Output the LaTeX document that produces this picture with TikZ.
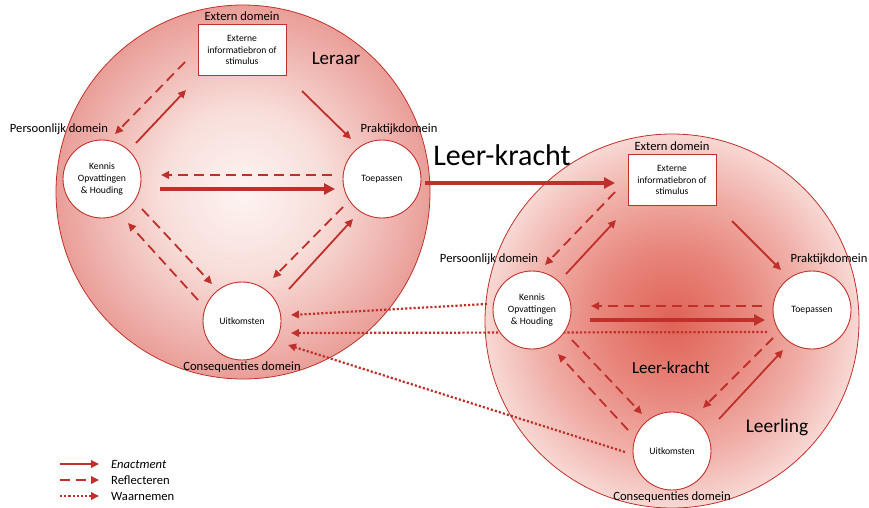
\documentclass[tikz,border=0pt]{standalone}
\usepackage{fontspec}
\setmainfont{Carlito}
\usetikzlibrary{arrows.meta,calc}
\definecolor{lr}{RGB}{192,48,42}
\definecolor{lcA}{RGB}{253,244,242}
\definecolor{lcB}{RGB}{248,222,218}
\definecolor{lcC}{RGB}{234,158,152}
\definecolor{rcA}{RGB}{224,98,86}
\definecolor{rcB}{RGB}{232,135,125}
\definecolor{rcC}{RGB}{240,175,168}
\definecolor{rcD}{RGB}{248,216,212}
\pgfdeclareradialshading{leftshade}{\pgfpointorigin}{color(0bp)=(lcA); color(11bp)=(lcB); color(25bp)=(lcC); color(50bp)=(lcC)}
\pgfdeclareradialshading{rightshade}{\pgfpointorigin}{color(0bp)=(rcA); color(10bp)=(rcB); color(18bp)=(rcC); color(25bp)=(rcD); color(50bp)=(rcD)}
\tikzset{
  bigcirc/.style={circle, draw=lr, line width=0.8pt, minimum size=374pt, inner sep=0pt},
  smallcirc/.style={circle, draw=lr, line width=0.9pt, fill=white, minimum size=78pt, inner sep=0pt, align=center, font=\fontsize{9.7}{12}\selectfont},
  srcbox/.style={rectangle, draw=lr, line width=1pt, fill=white, minimum width=88pt, minimum height=51pt, inner sep=0pt, align=center, font=\fontsize{9.6}{11.7}\selectfont},
  domlabel/.style={font=\fontsize{12.6}{15}\selectfont, inner sep=0pt},
  enact/.style={draw=lr, line width=1.8pt, -{Triangle[length=8pt,width=7.5pt]}},
  thickenact/.style={draw=lr, line width=3.8pt, -{Triangle[length=11pt,width=11pt]}},
  reflect/.style={draw=lr, line width=1.8pt, dash pattern=on 10pt off 6pt, -{Triangle[length=8pt,width=7.5pt]}},
  observe/.style={draw=lr, line width=2.2pt, dash pattern=on 2.2pt off 2pt, -{Triangle[length=8pt,width=7.5pt]}},
}
\begin{document}
\begin{tikzpicture}[x=1pt,y=-1pt]
\useasboundingbox (0,0) rectangle (869,507);
% big circles
\node[bigcirc, shade, shading=leftshade] (Lbig) at (243,192) {};
\node[bigcirc, shade, shading=rightshade] (Rbig) at (672,321) {};
% node positions
\coordinate (LKc) at (102,179);
\coordinate (LTc) at (382,179);
\coordinate (LUc) at (242,321);
\coordinate (RKc) at (532,310);
\coordinate (RTc) at (812,310);
\coordinate (RUc) at (672,451);
% dotted observation lines (drawn under the small circles)
\draw[observe] ($(RKc)+(-45,-6)$) -- ($(LUc)+(49,-6)$);
\draw[observe] ($(RTc)+(-45,22)$) -- ($(LUc)+(49,12)$);
\draw[observe] ($(RUc)+(-47,1)$) -- ($(LUc)+(46,24)$);
% left system
\node[srcbox] (LB) at (242,50) {Externe\\informatiebron of\\stimulus};
\node[smallcirc] (LK) at (LKc) {Kennis\\Opvattingen\\\& Houding};
\node[smallcirc] (LT) at (LTc) {Toepassen};
\node[smallcirc] (LU) at (LUc) {Uitkomsten};
% right system
\node[srcbox] (RB) at (672,180) {Externe\\informatiebron of\\stimulus};
\node[smallcirc] (RK) at (RKc) {Kennis\\Opvattingen\\\& Houding};
\node[smallcirc] (RT) at (RTc) {Toepassen};
\node[smallcirc] (RU) at (RUc) {Uitkomsten};
% labels left
\node[domlabel] (LBl) at (242,16) {Extern domein};
\node[domlabel] (LKl) at (59,129) {Persoonlijk domein};
\node[domlabel] (LTl) at (399,129) {Praktijkdomein};
\node[domlabel] (LUl) at (242,367) {Consequenties domein};
\node[font=\fontsize{19}{22}\selectfont, inner sep=0pt] (Lname) at (336,58) {Leraar};
% labels right
\node[domlabel] (RBl) at (672,146) {Extern domein};
\node[domlabel] (RKl) at (489,259) {Persoonlijk domein};
\node[domlabel] (RTl) at (829,259) {Praktijkdomein};
\node[domlabel] (RUl) at (672,497) {Consequenties domein};
\node[font=\fontsize{17}{20}\selectfont, inner sep=0pt] (Rmid) at (671,368) {Leer-kracht};
\node[font=\fontsize{19.4}{22}\selectfont, inner sep=0pt] (Rname) at (777,427) {Leerling};
\node[font=\fontsize{30}{34}\selectfont, inner sep=0pt] (Big) at (502,155) {Leer-kracht};
% arrows in both systems
\foreach \K/\T/\U/\B in {LK/LT/LU/LB, RK/RT/RU/RB}{
  \draw[enact] ($(\K)+(34,-36)$) -- ($(\B)+(-56,40)$);
  \draw[reflect] ($(\B)+(-57,12)$) -- ($(\K)+(13,-45)$);
  \draw[enact] ($(\B)+(60,41)$) -- ($(\T)+(-31,-40)$);
  \draw[reflect] ($(\T)+(-50,-4)$) -- ($(\K)+(59,-4)$);
  \draw[thickenact] ($(\K)+(58,10)$) -- ($(\T)+(-47,10)$);
  \draw[reflect] ($(\K)+(40,30)$) -- ($(\U)+(-30,-37)$);
  \draw[reflect] ($(\U)+(-44,-21)$) -- ($(\K)+(26,44)$);
  \draw[reflect] ($(\T)+(-39,28)$) -- ($(\U)+(31,-43)$);
  \draw[enact] ($(\U)+(47,-32)$) -- ($(\T)+(-29,40)$);
}
% connecting arrow
\draw[thickenact] ($(LT)+(43,4)$) -- ($(RB)+(-57,3)$);
% legend
\coordinate (g1a) at (60,464); \coordinate (g1b) at (99,464);
\coordinate (g2a) at (60,480); \coordinate (g2b) at (99,480);
\coordinate (g3a) at (60,496); \coordinate (g3b) at (99,496);
\draw[enact] (g1a) -- (g1b);
\draw[reflect] (g2a) -- (g2b);
\draw[observe] (g3a) -- (g3b);
\node[domlabel, anchor=west] (t1) at (111,464) {\itshape Enactment};
\node[domlabel, anchor=west] (t2) at (111,480) {Reflecteren};
\node[domlabel, anchor=west] (t3) at (111,496) {Waarnemen};
\end{tikzpicture}
\end{document}
